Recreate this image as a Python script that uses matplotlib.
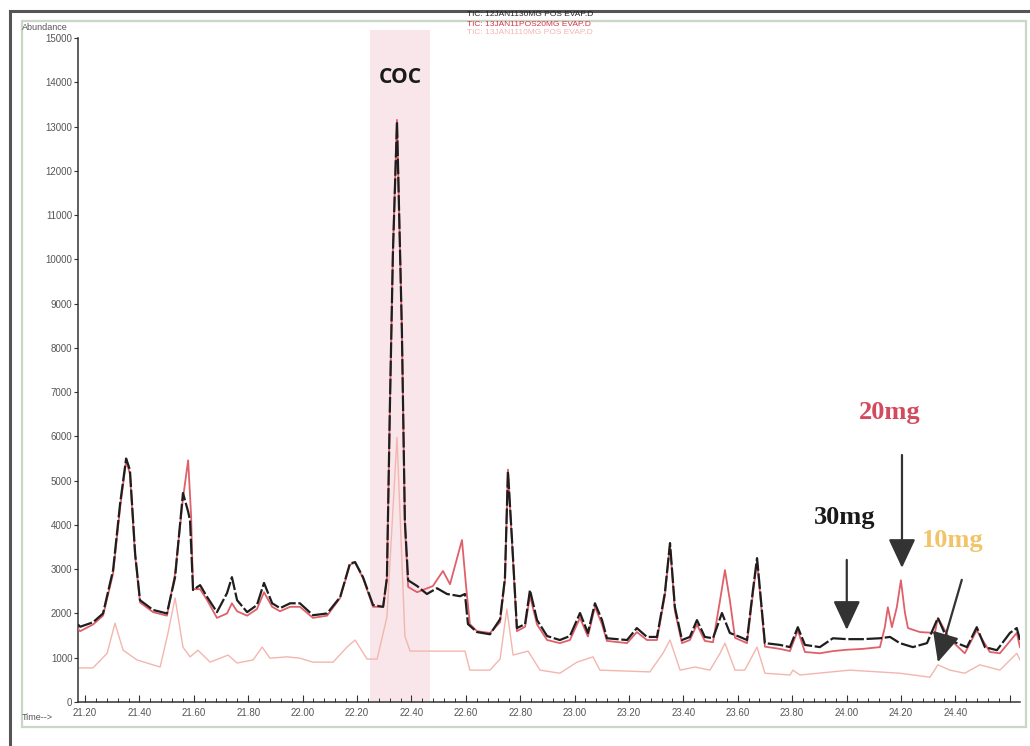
import matplotlib
matplotlib.use("Agg")
import matplotlib.pyplot as plt
from matplotlib.ticker import MultipleLocator, FuncFormatter
from matplotlib.lines import Line2D
from matplotlib.patches import Rectangle

# ---------------- data ----------------
t_30mg = [21.174, 21.182, 21.229, 21.266, 21.303, 21.329, 21.351, 21.365, 21.384, 21.402,
          21.450, 21.501, 21.531, 21.560, 21.579, 21.586, 21.597, 21.623, 21.649, 21.685,
          21.722, 21.740, 21.759, 21.796, 21.832, 21.858, 21.888, 21.917, 21.954, 21.990,
          22.038, 22.090, 22.138, 22.174, 22.193, 22.222, 22.259, 22.296, 22.310, 22.321,
          22.332, 22.347, 22.365, 22.376, 22.388, 22.421, 22.457, 22.494, 22.531, 22.579,
          22.597, 22.608, 22.641, 22.689, 22.726, 22.744, 22.755, 22.770, 22.788, 22.818,
          22.836, 22.862, 22.899, 22.946, 22.983, 23.020, 23.049, 23.075, 23.101, 23.119,
          23.193, 23.229, 23.266, 23.303, 23.332, 23.351, 23.369, 23.395, 23.424, 23.450,
          23.479, 23.509, 23.542, 23.571, 23.608, 23.634, 23.656, 23.671, 23.682, 23.700,
          23.755, 23.792, 23.821, 23.847, 23.902, 23.950, 24.001, 24.060, 24.123, 24.160,
          24.196, 24.244, 24.296, 24.336, 24.369, 24.406, 24.443, 24.479, 24.509, 24.553,
          24.601, 24.626, 24.638]
y_30mg = [1750, 1700, 1800, 2000, 2980, 4490, 5500, 5240, 3360, 2300,
          2080, 2000, 2820, 4720, 4300, 4100, 2530, 2640, 2370, 2030,
          2460, 2820, 2300, 2030, 2190, 2690, 2230, 2120, 2230, 2230,
          1960, 2000, 2370, 3130, 3160, 2820, 2190, 2150, 2800, 6690,
          10130, 13110, 8390, 4090, 2750, 2620, 2440, 2570, 2440, 2390,
          2440, 1760, 1580, 1530, 1870, 2800, 5210, 3660, 1670, 1760,
          2530, 1850, 1490, 1400, 1490, 2010, 1560, 2230, 1850, 1440,
          1400, 1670, 1470, 1470, 2460, 3590, 2140, 1400, 1470, 1850,
          1470, 1440, 2010, 1560, 1470, 1400, 2530, 3250, 2530, 1330,
          1290, 1240, 1690, 1290, 1240, 1440, 1420, 1420, 1440, 1470,
          1330, 1240, 1330, 1900, 1440, 1330, 1240, 1690, 1240, 1170,
          1560, 1670, 1400]

t_20mg = [21.174, 21.182, 21.229, 21.266, 21.303, 21.329, 21.351, 21.365, 21.384, 21.402,
          21.450, 21.501, 21.531, 21.560, 21.579, 21.590, 21.597, 21.623, 21.649, 21.685,
          21.722, 21.740, 21.759, 21.796, 21.832, 21.858, 21.888, 21.917, 21.954, 21.990,
          22.038, 22.090, 22.138, 22.174, 22.193, 22.222, 22.259, 22.296, 22.310, 22.321,
          22.332, 22.347, 22.365, 22.376, 22.388, 22.421, 22.479, 22.516, 22.542, 22.586,
          22.601, 22.615, 22.641, 22.689, 22.726, 22.744, 22.755, 22.770, 22.788, 22.818,
          22.836, 22.862, 22.899, 22.946, 22.983, 23.020, 23.049, 23.075, 23.101, 23.119,
          23.193, 23.229, 23.266, 23.303, 23.332, 23.351, 23.369, 23.395, 23.424, 23.450,
          23.479, 23.509, 23.535, 23.553, 23.571, 23.590, 23.608, 23.634, 23.656, 23.671,
          23.682, 23.700, 23.755, 23.792, 23.821, 23.847, 23.902, 23.950, 24.001, 24.060,
          24.123, 24.141, 24.152, 24.167, 24.185, 24.200, 24.215, 24.226, 24.270, 24.325,
          24.336, 24.380, 24.435, 24.479, 24.527, 24.564, 24.626, 24.638]
y_20mg = [1650, 1600, 1750, 1950, 2900, 4400, 5450, 5150, 3300, 2250,
          2030, 1950, 2900, 4600, 5460, 4200, 2550, 2550, 2300, 1900,
          2000, 2230, 2050, 1950, 2100, 2480, 2150, 2050, 2150, 2150,
          1900, 1950, 2350, 3100, 3150, 2800, 2150, 2150, 2800, 6700,
          10200, 13150, 8400, 4000, 2600, 2480, 2620, 2960, 2660, 3660,
          2620, 1760, 1600, 1560, 1800, 2750, 5250, 3600, 1600, 1700,
          2400, 1750, 1400, 1330, 1400, 1900, 1480, 2150, 1750, 1380,
          1330, 1580, 1400, 1400, 2400, 3550, 2050, 1330, 1400, 1750,
          1380, 1350, 2300, 2980, 2300, 1450, 1400, 1330, 2450, 3200,
          2450, 1250, 1200, 1150, 1620, 1130, 1100, 1150, 1180, 1200,
          1240, 1690, 2140, 1690, 2140, 2750, 2010, 1670, 1580, 1560,
          1900, 1420, 1100, 1620, 1130, 1100, 1560, 1240]

t_10mg = [21.174, 21.229, 21.281, 21.310, 21.340, 21.391, 21.476, 21.505, 21.531, 21.560,
          21.586, 21.615, 21.660, 21.726, 21.759, 21.818, 21.851, 21.880, 21.943, 21.990,
          22.038, 22.112, 22.163, 22.193, 22.237, 22.274, 22.310, 22.347, 22.376, 22.395,
          22.457, 22.542, 22.597, 22.615, 22.689, 22.726, 22.751, 22.774, 22.829, 22.873,
          22.946, 23.009, 23.068, 23.093, 23.277, 23.325, 23.351, 23.388, 23.443, 23.498,
          23.535, 23.553, 23.590, 23.626, 23.671, 23.700, 23.792, 23.803, 23.829, 24.012,
          24.196, 24.307, 24.336, 24.380, 24.435, 24.490, 24.564, 24.626, 24.638]
y_10mg = [770, 770, 1100, 1780, 1170, 950, 790, 1560, 2350, 1240,
          1020, 1170, 900, 1060, 880, 950, 1240, 990, 1020, 990,
          900, 900, 1240, 1400, 970, 970, 1920, 5980, 1490, 1150,
          1150, 1150, 1150, 720, 720, 970, 2100, 1060, 1150, 720,
          650, 900, 1020, 720, 680, 1100, 1400, 720, 790, 720,
          1100, 1330, 720, 720, 1240, 650, 610, 720, 610, 720,
          650, 560, 840, 720, 650, 840, 720, 1100, 950]

legend_lines = ["TIC: 12JAN1130MG POS EVAP.D",
                "TIC: 13JAN11POS20MG EVAP.D",
                "TIC: 13JAN1110MG POS EVAP.D"]
dose_labels = ["30mg", "20mg", "10mg"]

# ---------------- figure ----------------
W, H = 1030, 746
fig = plt.figure(figsize=(W / 100, H / 100), dpi=100)
fig.patch.set_facecolor("white")

def fx(px):
    return px / W

def fy(py):
    return 1 - py / H

# outer dark frame (top & left) and inner light green frame
fig.add_artist(Line2D([fx(10), fx(1030)], [fy(11), fy(11)], color="#555555", lw=2.2))
fig.add_artist(Line2D([fx(10), fx(10)], [fy(11), fy(746)], color="#555555", lw=2.2))
fig.add_artist(Rectangle((fx(22), fy(727)), fx(1026) - fx(22), fy(21) - fy(727),
                         fill=False, edgecolor="#c9d7c6", lw=1.6))

ax = fig.add_axes([fx(78), fy(702), fx(1020) - fx(78), fy(38) - fy(702)])
ax.set_facecolor("none")
ax.set_xlim(21.174, 24.638)
ax.set_ylim(0, 15000)

# COC shaded band
ax.axvspan(22.248, 22.468, ymin=0, ymax=1.012, color="#f9e6ea", zorder=0, clip_on=False, lw=0)

c30, c20, c10 = "#1e1e1e", "#e0606a", "#f3b6ae"
ax.plot(t_10mg, y_10mg, color=c10, lw=1.0, zorder=2)
ax.plot(t_20mg, y_20mg, color=c20, lw=1.3, zorder=3)
ax.plot(t_30mg, y_30mg, color=c30, lw=1.6, zorder=4, linestyle=(0, (7, 1.2)))

for s in ["top", "right"]:
    ax.spines[s].set_visible(False)
for s in ["left", "bottom"]:
    ax.spines[s].set_color("#333333")
    ax.spines[s].set_linewidth(1.1)

ax.yaxis.set_major_locator(MultipleLocator(1000))
ax.xaxis.set_major_locator(MultipleLocator(0.2))
ax.xaxis.set_minor_locator(MultipleLocator(0.04))
ax.xaxis.set_major_formatter(FuncFormatter(lambda v, p: f"{v:.2f}" if v < 24.5 else ""))
ax.tick_params(axis="y", direction="out", length=3, width=0.8, colors="#333333",
               labelsize=7, labelcolor="#555555", pad=1)
ax.tick_params(axis="x", which="major", direction="in", length=5, width=0.8,
               colors="#333333", labelsize=7, labelcolor="#555555", pad=4)
ax.tick_params(axis="x", which="minor", direction="in", length=3, width=0.7, colors="#333333")
for lab in ax.get_xticklabels() + ax.get_yticklabels():
    lab.set_family("Liberation Sans")

# axis captions
fig.text(fx(22), fy(28), "Abundance", fontsize=6.5, color="#555555",
         family="Liberation Sans", va="center", ha="left")
fig.text(fx(22), fy(717), "Time-->", fontsize=6.5, color="#555555",
         family="Liberation Sans", va="center", ha="left")

# file legend at top
for txt, col, py in zip(legend_lines, ["#222222", "#d8344a", "#f4b4b4"], [14, 24, 33]):
    fig.text(fx(467), fy(py), txt, fontsize=6, color=col, family="Liberation Sans",
             va="center", ha="left")

# COC label
ax.text(22.358, 14100, "COC", fontsize=15, fontweight="bold", family="Open Sans",
        color="#1a1a1a", ha="center", va="center")

# dose labels
ax.text(23.994, 4160, dose_labels[0], fontsize=19, fontweight="bold", family="Liberation Serif",
        color="#1a1a1a", ha="center", va="center")
ax.text(24.160, 6530, dose_labels[1], fontsize=19, fontweight="bold", family="Liberation Serif",
        color="#d44a5c", ha="center", va="center")
ax.text(24.391, 3650, dose_labels[2], fontsize=19, fontweight="bold", family="Liberation Serif",
        color="#f2c468", ha="center", va="center")

arrow_kw = dict(arrowstyle="-|>,head_length=0.9,head_width=0.42", color="#333333",
                lw=1.6, mutation_scale=20, shrinkA=0, shrinkB=0)
ax.annotate("", xy=(24.204, 3030), xytext=(24.204, 5580), arrowprops=arrow_kw, zorder=6)
ax.annotate("", xy=(24.001, 1630), xytext=(24.001, 3210), arrowprops=arrow_kw, zorder=6)
ax.annotate("", xy=(24.336, 900), xytext=(24.424, 2760), arrowprops=arrow_kw, zorder=6)

fig.savefig("out.png", dpi=100, facecolor="white")
